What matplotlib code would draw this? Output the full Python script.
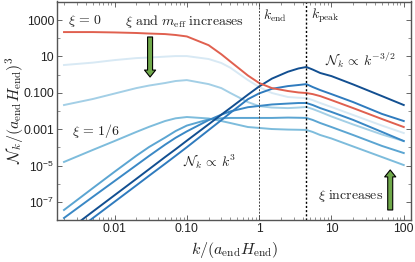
import numpy as np
import matplotlib
matplotlib.use('Agg')
import matplotlib.pyplot as plt

plt.rcParams['font.family'] = ['Liberation Sans', 'DejaVu Sans']
plt.rcParams['mathtext.fontset'] = 'cm'

# k / (a_end H_end)
k = [0.002, 0.005, 0.01, 0.02, 0.03, 0.05, 0.07, 0.1, 0.2, 0.3, 0.4, 0.7, 1, 1.5, 2.5, 3.5, 4.5, 5.5, 7, 10, 20, 50, 100]

# log10 of N_k
red = [2.34, 2.34, 2.32, 2.29, 2.26, 2.23, 2.18, 2.10, 1.62, 1.12, 0.72, -0.05, -0.46, -0.74, -0.90, -0.98, -1.01, -1.07, -1.18, -1.40, -1.84, -2.44, -2.88]
lightest = [0.53, 0.66, 0.80, 0.91, 0.94, 0.99, 1.02, 1.02, 0.86, 0.64, 0.38, -0.30, -0.68, -1.01, -1.23, -1.27, -1.29, -1.40, -1.56, -1.78, -2.22, -2.80, -3.21]
light2 = [-1.67, -1.34, -1.04, -0.74, -0.60, -0.46, -0.35, -0.30, -0.52, -0.74, -1.01, -1.51, -1.73, -1.81, -1.84, -1.81, -1.78, -1.89, -2.05, -2.30, -2.74, -3.29, -3.65]
light3 = [-4.80, -4.14, -3.65, -3.15, -2.87, -2.55, -2.40, -2.33, -2.41, -2.55, -2.66, -2.88, -2.93, -2.99, -3.02, -3.03, -3.04, -3.15, -3.32, -3.51, -3.95, -4.53, -4.97]
mid1 = [-7.44, -6.24, -5.34, -4.46, -3.98, -3.46, -3.10, -2.80, -2.46, -2.40, -2.38, -2.38, -2.38, -2.38, -2.36, -2.37, -2.38, -2.49, -2.66, -2.88, -3.32, -3.92, -4.31]
mid2 = [-7.88, -6.72, -5.85, -4.98, -4.47, -3.85, -3.47, -3.12, -2.50, -2.20, -2.02, -1.79, -1.72, -1.64, -1.59, -1.56, -1.56, -1.67, -1.84, -2.05, -2.49, -3.15, -3.65]
mid3 = [-9.09, -7.89, -6.99, -6.09, -5.56, -4.90, -4.46, -3.99, -3.05, -2.50, -2.10, -1.35, -1.03, -0.78, -0.63, -0.57, -0.52, -0.68, -0.85, -1.07, -1.51, -2.16, -2.55]
dark = [-8.73, -7.53, -6.63, -5.73, -5.20, -4.53, -4.10, -3.63, -2.73, -2.20, -1.83, -1.10, -0.65, -0.22, 0.16, 0.34, 0.42, 0.28, 0.09, -0.08, -0.54, -1.18, -1.67]

series = [lightest, light2, light3, mid1, mid2, mid3, dark, red]
colors = ['#d8e9f4', '#a3cfe6', '#7dbcdc', '#5ba5d2', '#3a88c5', '#2f7bbe', '#124f91', '#e0604f']

xticks = [0.01, 0.1, 1, 10, 100]
xlabels = ['0.01', '0.10', '1', '10', '100']
yticks = [1e3, 10, 0.1, 1e-3, 1e-5, 1e-7]
ylabels = ['1000', '10', '0.100', '0.001', r'$\mathregular{10^{-5}}$', r'$\mathregular{10^{-7}}$']

W, H = 415, 262
fig = plt.figure(figsize=(W / 100, H / 100), dpi=100)
ax = fig.add_axes([57 / W, 1 - 220 / H, (411 - 57) / W, (220 - 1.5) / H])

for s, c in zip(series, colors):
    ax.plot(k, 10.0 ** np.array(s), color=c, lw=1.4)

ax.axvline(1, color='#444444', lw=0.7, ls=(0, (2, 1.5)))
ax.axvline(4.5, color='k', lw=1.0, ls=(0, (1.5, 1.5)))

ax.set_xscale('log')
ax.set_yscale('log')
ax.set_xlim(0.0016, 126)
ax.set_ylim(1.02e-8, 1.05e4)
ax.set_xticks(xticks, xlabels)
ax.set_yticks(yticks, ylabels)
ax.xaxis.set_minor_locator(matplotlib.ticker.LogLocator(base=10, subs=np.arange(2, 10), numticks=12))
ax.xaxis.set_minor_formatter(matplotlib.ticker.NullFormatter())
ax.yaxis.set_minor_locator(matplotlib.ticker.FixedLocator([1e4, 100, 1, 0.01, 1e-4, 1e-6, 1e-8]))
ax.yaxis.set_minor_formatter(matplotlib.ticker.NullFormatter())
ax.tick_params(which='major', direction='in', top=True, right=True, length=3.5, width=0.7,
               color='#666666', labelsize=8.7, pad=2, labelcolor='#222222')
ax.tick_params(which='minor', direction='in', top=True, right=True, length=2, width=0.5, color='#666666')
for sp in ax.spines.values():
    sp.set_linewidth(1.0)
    sp.set_color('#555555')


def label(x, y, s, size=10, **kw):
    # positions in picture pixels
    fig.text(x / W, 1 - y / H, s, fontsize=size, color='#222222', va='center', **kw)


label(68, 21, r'$\xi\,=\,0$')
label(125, 21, r'$\xi\ \mathrm{and}\ m_{\mathrm{eff}}\ \mathrm{increases}$')
label(263, 16, r'$k_{\mathrm{end}}$')
label(311, 16, r'$k_{\mathrm{peak}}$')
label(325, 60, r'$\mathcal{N}_k\,\propto\,k^{-3/2}$')
label(72, 131, r'$\xi\,=\,1/6$')
label(183, 162, r'$\mathcal{N}_k\,\propto\,k^3$')
label(318, 196, r'$\xi\ \mathrm{increases}$')
label(15, 110, r'$\mathcal{N}_k/(a_{\mathrm{end}}H_{\mathrm{end}})^3$', size=11.5, rotation=90, ha='center')
label(235, 250, r'$k/(a_{\mathrm{end}}H_{\mathrm{end}})$', size=11.5, ha='center')

arrow = dict(width=3.6, headwidth=8, headlength=5, shrink=0, fc='#6fa84a', ec='k', lw=0.8)
ax.annotate('', xy=(0.031, 10 ** -0.13), xytext=(0.031, 10 ** 2.07), arrowprops=arrow)
ax.annotate('', xy=(65, 10 ** -5.24), xytext=(65, 10 ** -7.44), arrowprops=arrow)

fig.savefig('out.png', dpi=100)
